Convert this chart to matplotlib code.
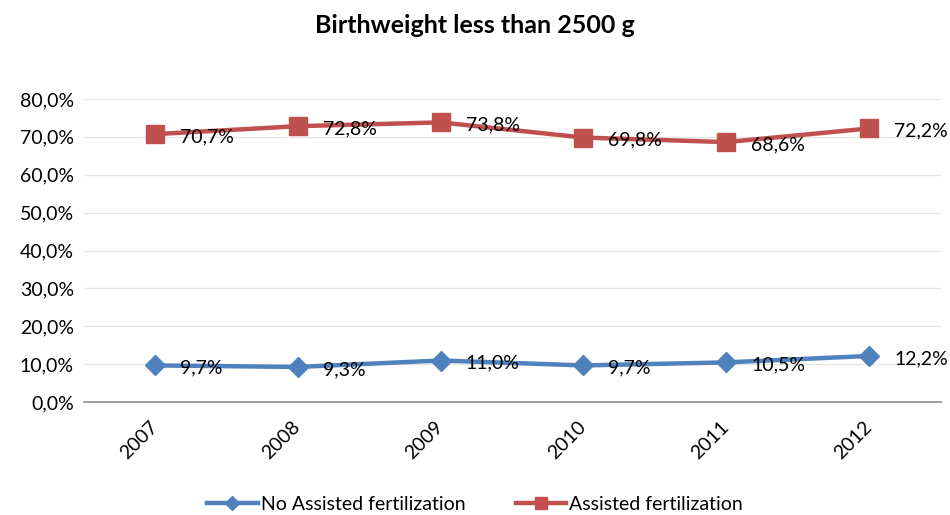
import matplotlib
matplotlib.use('Agg')
import matplotlib.pyplot as plt
from matplotlib.ticker import FuncFormatter

# data
years = ['2007', '2008', '2009', '2010', '2011', '2012']
no_assisted = [9.7, 9.3, 11.0, 9.7, 10.5, 12.2]
assisted = [70.7, 72.8, 73.8, 69.8, 68.6, 72.2]

plt.rcParams['font.family'] = ['Lato', 'DejaVu Sans']

blue = '#4F81BD'
red = '#C0504D'
fs = 14

fig = plt.figure(figsize=(9.5, 5.15), dpi=100)
ax = fig.add_axes([0.088, 0.219, 0.902, 0.589])

x = list(range(len(years)))
ax.plot(x, no_assisted, color=blue, lw=3.2, marker='D', markersize=10,
        label='No Assisted fertilization', zorder=3)
ax.plot(x, assisted, color=red, lw=3.2, marker='s', markersize=13,
        label='Assisted fertilization', zorder=3)

def pct(v):
    return ('%.1f%%' % v).replace('.', ',')

for xi, v in zip(x, no_assisted):
    ax.annotate(pct(v), (xi, v), xytext=(18, -2), textcoords='offset points',
                ha='left', va='center', fontsize=fs, color='black', zorder=4)
for xi, v in zip(x, assisted):
    ax.annotate(pct(v), (xi, v), xytext=(18, -2), textcoords='offset points',
                ha='left', va='center', fontsize=fs, color='black', zorder=4)

ax.set_xlim(-0.5, len(years) - 0.5)
ax.set_ylim(0, 80)
ax.set_yticks(range(0, 81, 10))
ax.yaxis.set_major_formatter(FuncFormatter(lambda v, p: pct(v)))
ax.set_xticks(x)
ax.set_xticklabels(years, rotation=45, ha='right', va='center',
                   rotation_mode='anchor')
ax.tick_params(axis='both', length=0, labelsize=fs)
ax.tick_params(axis='x', pad=16)
ax.tick_params(axis='y', pad=7)
ax.grid(axis='y', color='#E6E6E6', lw=1)
ax.set_axisbelow(True)
for s in ['top', 'right', 'left']:
    ax.spines[s].set_visible(False)
ax.spines['bottom'].set_color('#8C8C8C')
ax.spines['bottom'].set_linewidth(1.2)

fig.text(0.5, 0.951, 'Birthweight less than 2500 g', fontsize=18,
         fontweight='bold', ha='center', va='center')

fig.legend(loc='lower center', ncol=2, frameon=False, fontsize=fs,
           bbox_to_anchor=(0.5, -0.03), handlelength=2.6, columnspacing=2.6,
           handletextpad=0.15, markerscale=0.7)

fig.savefig('out.png', dpi=100)
